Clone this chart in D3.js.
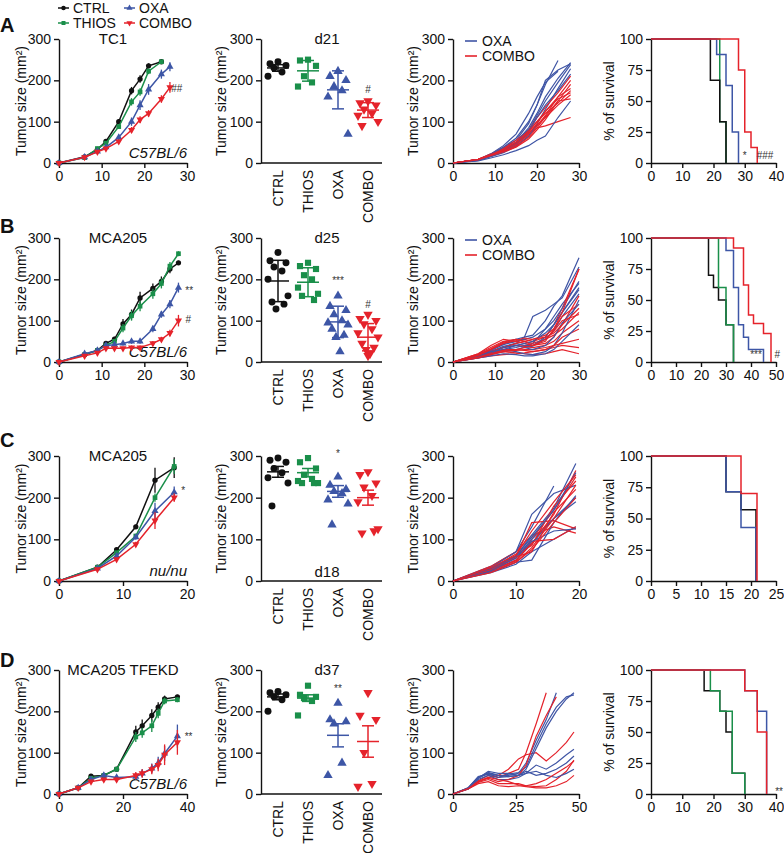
<!DOCTYPE html>
<html>
<head>
<meta charset="utf-8">
<script src="https://cdn.jsdelivr.net/npm/d3@7"></script>
<style>
  body { margin: 0; background: #fff; }
  svg text { font-family: 'Liberation Sans', Arial, sans-serif; fill: #111; }
</style>
</head>
<body>
<div id="chart"></div>
<script>
const groups = ['CTRL', 'THIOS', 'OXA', 'COMBO']
const groupColors = ['#111111', '#1a8f4a', '#3d56a6', '#e5232b']
const curveColors = ['#3f55a5', '#e4222b']

// ---- row A : TC1 ----
const aDays = [0, 6, 9, 11, 14, 17, 19, 21, 24, 26]
const aCtrl = [0, 15, 33, 52, 100, 175, 203, 235, 245, null]
const aThios = [0, 13, 35, 48, 88, 148, 172, 222, 245, null]
const aOxa = [0, 14, 28, 38, 62, 100, 140, 178, 215, 233]
const aCombo = [0, 14, 27, 35, 52, 80, 105, 120, 155, 183]
const aCtrlErr = [0, 2, 3, 4, 6, 9, 9, 6, 4, null]
const aThiosErr = [0, 2, 3, 4, 6, 9, 9, 7, 4, null]
const aOxaErr = [0, 2, 3, 4, 7, 10, 12, 13, 11, 11]
const aComboErr = [0, 2, 3, 3, 5, 7, 8, 8, 9, 13]

const aDotCtrl = [245, 240, 236, 230, 220, 210]
const aDotThios = [250, 248, 235, 210, 195, 185]
const aDotOxa = [222, 210, 200, 185, 175, 160, 70]
const aDotCombo = [150, 145, 140, 130, 120, 115, 100, 90]
const aDotMean = [230, 223, 177, 128]
const aDotErr = [8, 25, 46, 18]

const aCurveDays = [0, 6, 9, 12, 15, 18, 20, 22, 25, 28]
const aCurvesOxa = [
  [0, 8, 20, 35, 55, 95, 140, 190, 248, null],
  [0, 8, 22, 42, 70, 120, 160, 195, 222, null],
  [0, 7, 18, 32, 50, 85, 120, 160, 205, 243],
  [0, 7, 17, 30, 48, 80, 115, 150, 195, 238],
  [0, 6, 15, 25, 40, 65, 95, 130, 180, 228],
  [0, 5, 12, 20, 30, 42, 55, 65, 110, 150],
  [0, 6, 16, 28, 45, 75, 110, 140, 175, 215],
  [0, 8, 20, 38, 60, 100, 140, 200, 225, 240]
]
const aCurvesCombo = [
  [0, 9, 22, 38, 55, 80, 100, 120, 145, 175],
  [0, 9, 20, 32, 48, 72, 92, 110, 140, 165],
  [0, 8, 19, 30, 45, 68, 85, 90, 100, 110],
  [0, 8, 18, 28, 42, 65, 90, 115, 160, 200],
  [0, 9, 21, 35, 50, 78, 110, 135, 170, 210],
  [0, 8, 17, 26, 38, 58, 80, 105, 150, 190],
  [0, 8, 18, 28, 40, 62, 85, 112, 150, 155],
  [0, 9, 20, 33, 50, 75, 100, 125, 160, 180],
  [0, 8, 19, 30, 45, 70, 95, 125, 155, 170]
]

const aSurvCtrl = [[0, 100], [19, 66.7], [22, 33.3], [24, 0]]
const aSurvThios = [[0, 100], [22, 33.3], [24, 0]]
const aSurvOxa = [[0, 100], [21, 87.5], [24, 62.5], [26, 25], [28, 0]]
const aSurvCombo = [[0, 100], [28, 75], [30, 25], [32, 12.5], [34, 0]]

// ---- row B : MCA205 ----
const bDays = [0, 6, 9, 11, 13, 15, 17, 19, 22, 24, 26, 28]
const bCtrl = [0, 18, 28, 45, 55, 92, 115, 155, 178, 195, 225, 240]
const bThios = [0, 18, 28, 40, 50, 82, 112, 135, 165, 190, 232, 262]
const bOxa = [0, 20, 28, 40, 42, 45, 50, 50, 80, 115, 140, 180]
const bCombo = [0, 15, 22, 33, 33, 33, 35, 35, 45, 55, 70, 100]
const bCtrlErr = [0, 3, 4, 5, 6, 12, 12, 15, 12, 12, 10, 5]
const bThiosErr = [0, 3, 4, 5, 6, 10, 12, 12, 12, 12, 10, 6]
const bOxaErr = [0, 3, 4, 5, 5, 5, 6, 6, 8, 8, 10, 12]
const bComboErr = [0, 3, 3, 4, 4, 4, 5, 5, 6, 6, 8, 14]

const bDotCtrl = [265, 245, 240, 230, 220, 200, 160, 145, 140, 128]
const bDotThios = [240, 232, 225, 210, 200, 180, 165, 160, 150]
const bDotOxa = [160, 135, 125, 115, 100, 95, 90, 80, 65, 60, 25]
const bDotCombo = [115, 105, 100, 92, 80, 70, 60, 45, 35, 30, 20, 15]
const bDotMean = [196, 193, 97, 60]
const bDotErr = [50, 35, 38, 33]

const bCurveDays = [0, 6, 9, 12, 15, 17, 19, 22, 24, 26, 30]
const bCurvesOxa = [
  [0, 15, 25, 35, 45, 40, 45, 80, 110, 140, 190],
  [0, 18, 30, 45, 55, 60, 65, 100, 135, 160, 252],
  [0, 12, 20, 30, 35, 40, 40, 60, 90, 120, 180],
  [0, 10, 18, 25, 30, 35, 38, 55, 75, 110, 165],
  [0, 15, 28, 42, 50, 55, 60, 80, 100, 130, 195],
  [0, 12, 22, 30, 25, 20, 18, 25, 40, 70, 150],
  [0, 14, 25, 38, 45, 60, 110, 125, 140, 155, 230],
  [0, 10, 15, 20, 18, 15, 15, 20, 30, 50, 90],
  [0, 12, 20, 35, 40, 45, 50, 70, 90, 120, 175],
  [0, 15, 25, 30, 40, 35, 30, 40, 60, 95, 140]
]
const bCurvesCombo = [
  [0, 20, 35, 50, 55, 50, 45, 55, 65, 80, 120],
  [0, 18, 30, 45, 50, 55, 50, 60, 90, 130, 225],
  [0, 15, 25, 35, 40, 38, 35, 40, 50, 70, 100],
  [0, 12, 20, 25, 22, 20, 18, 20, 25, 30, 20],
  [0, 10, 15, 18, 20, 22, 25, 30, 35, 40, 35],
  [0, 15, 22, 30, 30, 28, 25, 30, 40, 60, 80],
  [0, 20, 40, 55, 50, 45, 40, 45, 60, 90, 160],
  [0, 14, 25, 35, 45, 50, 55, 65, 80, 110, 140],
  [0, 10, 18, 25, 28, 30, 30, 35, 40, 45, 55],
  [0, 16, 30, 45, 52, 58, 55, 60, 70, 90, 130],
  [0, 12, 20, 28, 30, 35, 40, 55, 75, 100, 115],
  [0, 18, 32, 48, 55, 50, 40, 50, 80, 120, 225]
]

const bSurvCtrl = [[0, 100], [23, 70], [25, 60], [27, 50], [30, 30], [33, 0]]
const bSurvThios = [[0, 100], [27, 60], [30, 30], [33, 0]]
const bSurvOxa = [[0, 100], [30, 90], [33, 60], [35, 30], [37, 20], [39, 10], [45, 0]]
const bSurvCombo = [[0, 100], [33, 92], [37, 62], [39, 38], [41, 31], [45, 23], [48, 0]]

// ---- row C : MCA205 nu/nu ----
const cDays = [0, 6, 9, 12, 15, 18]
const cCtrl = [0, 33, 75, 130, 242, 272]
const cThios = [0, 33, 68, 108, 200, 275]
const cOxa = [0, 30, 60, 105, 168, 213]
const cCombo = [0, 28, 52, 88, 145, 200]
const cCtrlErr = [0, 2, 4, 5, 30, 25]
const cThiosErr = [0, 2, 4, 5, 10, 18]
const cOxaErr = [0, 2, 4, 6, 20, 14]
const cComboErr = [0, 2, 4, 6, 20, 10]

const cDotCtrl = [295, 290, 285, 270, 260, 248, 235, 180]
const cDotThios = [295, 285, 270, 255, 245, 240, 235, 235, 235]
const cDotOxa = [250, 230, 220, 215, 210, 195, 185, 135]
const cDotCombo = [262, 255, 235, 225, 205, 190, 125, 115, 120]
const cDotMean = [262, 260, 215, 200]
const cDotErr = [13, 10, 14, 18]

const cCurveDays = [0, 6, 10, 12.5, 16, 19.5]
const cCurvesOxa = [
  [0, 35, 70, 130, 228, null],
  [0, 30, 60, 110, 175, 282],
  [0, 25, 50, 90, 150, 200],
  [0, 28, 55, 100, 150, 190],
  [0, 32, 70, 160, 210, 230],
  [0, 20, 40, 70, 100, 130],
  [0, 22, 45, 50, 140, 205],
  [0, 25, 55, 95, 120, 125],
  [0, 30, 60, 105, 170, 260]
]
const cCurvesCombo = [
  [0, 35, 70, 110, 130, 115],
  [0, 30, 60, 140, 145, 125],
  [0, 28, 55, 100, 170, 250],
  [0, 25, 50, 90, 160, 265],
  [0, 30, 65, 85, 180, 240],
  [0, 22, 45, 80, 150, 230],
  [0, 25, 48, 95, 100, 130],
  [0, 28, 58, 70, 165, 220],
  [0, 32, 62, 120, 190, 255],
  [0, 20, 45, 75, 140, 200]
]

const cSurvCtrl = [[0, 100], [15, 71.4], [18, 57.1], [21, 0]]
const cSurvOxa = [[0, 100], [15, 71.4], [18, 42.9], [21, 0]]
const cSurvCombo = [[0, 100], [18, 70], [21.2, 0]]

// ---- row D : MCA205 TFEKD ----
const dDays = [0, 6, 10, 14, 18, 24, 26, 29, 31, 33, 37]
const dCtrl = [0, 15, 43, 45, 60, 150, 165, 190, 210, 230, 235]
const dThios = [0, 15, 38, 45, 60, 138, 148, 165, 195, 225, 228]
const dOxa = [0, 15, 35, 45, 40, 42, 50, 62, 75, 98, 140]
const dCombo = [0, 15, 30, 35, 35, 45, 50, 60, 70, 95, 125]
const dCtrlErr = [0, 2, 4, 5, 5, 15, 15, 15, 12, 8, 5]
const dThiosErr = [0, 2, 4, 5, 5, 12, 12, 15, 12, 8, 6]
const dOxaErr = [0, 2, 4, 5, 6, 8, 10, 12, 15, 18, 28]
const dComboErr = [0, 2, 4, 4, 5, 8, 10, 12, 15, 25, 30]

const dDotCtrl = [248, 245, 240, 235, 228, 200]
const dDotThios = [262, 240, 235, 232, 225, 190]
const dDotOxa = [220, 180, 175, 170, 75, 45]
const dDotCombo = [245, 190, 180, 100, 25, 18]
const dDotMean = [235, 232, 142, 127]
const dDotErr = [7, 8, 28, 38]

const dCurveDays = [0, 6, 10, 14, 18, 22, 26, 29, 33, 37, 41, 45, 48]
const dCurvesOxa = [
  [0, 15, 40, 52, 45, 45, 50, 75, 130, 180, 245, null, null],
  [0, 14, 38, 50, 40, 42, 45, 60, 110, 160, 200, 230, 245],
  [0, 15, 42, 48, 40, 48, 52, 65, 120, 170, 210, 235, 240],
  [0, 12, 35, 45, 35, 35, 40, 50, 70, 60, 75, 95, 108],
  [0, 14, 40, 50, 45, 42, 45, 55, 45, 50, 60, 75, 92],
  [0, 13, 38, 55, 50, 50, 45, 50, 55, 45, 40, 50, 60]
]
const dCurvesCombo = [
  [0, 12, 30, 40, 45, 60, 85, 95, 100, 80, 100, 125, 150],
  [0, 14, 32, 45, 40, 50, 60, 100, 170, 245, null, null, null],
  [0, 12, 25, 30, 20, 18, 20, 18, 15, 15, 20, 30, 45],
  [0, 14, 30, 38, 30, 35, 45, 70, 140, 190, 235, null, null],
  [0, 12, 28, 35, 25, 25, 25, 20, 18, 20, 35, 55, 82],
  [0, 13, 30, 40, 35, 30, 22, 20, 25, 35, 50, 65, 80]
]

const dSurvCtrl = [[0, 100], [17, 83.3], [22, 66.7], [24, 50], [26, 16.7], [30, 0]]
const dSurvThios = [[0, 100], [19, 83.3], [22, 66.7], [26, 16.7], [30, 0]]
const dSurvOxa = [[0, 100], [30, 83.3], [34, 66.7], [37, 0]]
const dSurvCombo = [[0, 100], [30, 83.3], [34, 50], [37, 0]]

// ---- layout ----
const width = 784
const height = 853
const cols = [[59, 187], [261, 382], [453, 579], [651, 776]]
const rows = [[39, 163], [238, 362], [456, 581], [670, 794]]
const jitter = [0, -8, 8, -4, 4, -10, 10, -6, 6, -2, 2, 0]
const symbolTypes = [d3.symbolCircle, d3.symbolSquare, d3.symbolTriangle, d3.symbolTriangle]

const svg = d3
  .select('#chart')
  .append('svg')
  .attr('width', width)
  .attr('height', height)

function styleAxis(g) {
  g.selectAll('path, line').attr('stroke', '#111').attr('stroke-width', 1.4)
  g.selectAll('text')
    .attr('font-size', 14)
    .attr('font-family', "'Liberation Sans', Arial, sans-serif")
    .attr('fill', '#111')
}

function drawYAxis(x, scale, ticks) {
  svg
    .append('g')
    .attr('transform', `translate(${x},0)`)
    .call(d3.axisLeft(scale).tickValues(ticks).tickSize(5).tickPadding(3).tickSizeOuter(0))
    .call(styleAxis)
}

function drawXAxis(y, scale, ticks) {
  svg
    .append('g')
    .attr('transform', `translate(0,${y})`)
    .call(d3.axisBottom(scale).tickValues(ticks).tickSize(5).tickPadding(3).tickSizeOuter(0))
    .call(styleAxis)
}

function yTitle(text, x, top, bottom) {
  svg
    .append('text')
    .attr('transform', `translate(${x},${(top + bottom) / 2}) rotate(-90)`)
    .attr('text-anchor', 'middle')
    .attr('font-size', 14)
    .text(text)
}

function note(text, x, y) {
  svg
    .append('text')
    .attr('x', x)
    .attr('y', y)
    .attr('dy', '0.35em')
    .attr('text-anchor', 'middle')
    .attr('font-size', 10)
    .style('fill', '#333')
    .text(text)
}

function symbolPath(i, size) {
  return d3.symbol().type(symbolTypes[i]).size(size)()
}

function symbolTransform(i, x, y) {
  return `translate(${x},${y})` + (i === 3 ? ' rotate(180)' : '')
}

function growthPanel(r, days, series, errs, xMax, xTicks, title, titleX, strain, notes) {
  const [top, bottom] = rows[r]
  const x = d3.scaleLinear().domain([0, xMax]).range(cols[0])
  const y = d3.scaleLinear().domain([0, 300]).range([bottom, top])
  drawYAxis(cols[0][0], y, [0, 100, 200, 300])
  drawXAxis(bottom, x, xTicks)
  yTitle('Tumor size (mm²)', 26, top, bottom)

  svg.append('text').attr('x', titleX).attr('y', top + 5).attr('text-anchor', 'middle')
    .attr('font-size', 15).text(title)
  svg.append('text').attr('x', cols[0][1]).attr('y', bottom - 5).attr('text-anchor', 'end')
    .attr('font-size', 15).attr('font-style', 'italic').text(strain)

  const line = d3.line().x(d => x(d[0])).y(d => y(d[1]))
  series.forEach((vals, i) => {
    const pts = days
      .map((d, j) => [d, vals[j], errs[i][j]])
      .filter(p => p[1] != null)
    const g = svg.append('g')
    g.append('path')
      .datum(pts)
      .attr('d', line)
      .attr('fill', 'none')
      .attr('stroke', groupColors[i])
      .attr('stroke-width', 1.5)
    g.selectAll('.err')
      .data(pts.filter(p => p[2] > 0))
      .enter()
      .append('line')
      .attr('x1', p => x(p[0]))
      .attr('x2', p => x(p[0]))
      .attr('y1', p => y(p[1] - p[2]))
      .attr('y2', p => y(p[1] + p[2]))
      .attr('stroke', groupColors[i])
      .attr('stroke-width', 1.3)
    g.selectAll('.pt')
      .data(pts)
      .enter()
      .append('path')
      .attr('d', symbolPath(i, 22))
      .attr('transform', p => symbolTransform(i, x(p[0]), y(p[1])))
      .attr('fill', groupColors[i])
  })
  notes.forEach(n => note(n[0], x(n[1]), y(n[2])))
}

function dotPanel(r, points, means, errs, title, titleAtBottom, notes) {
  const [top, bottom] = rows[r]
  const x = d3.scalePoint().domain(groups).range([278, 368])
  const y = d3.scaleLinear().domain([0, 300]).range([bottom, top])
  drawYAxis(cols[1][0], y, [0, 100, 200, 300])
  svg.append('line')
    .attr('x1', cols[1][0]).attr('x2', cols[1][1])
    .attr('y1', bottom).attr('y2', bottom)
    .attr('stroke', '#111').attr('stroke-width', 1.4)
  yTitle('Tumor size (mm²)', 226, top, bottom)

  groups.forEach(name => {
    svg.append('text')
      .attr('transform', `translate(${x(name)},${bottom + 7}) rotate(-90)`)
      .attr('text-anchor', 'end')
      .attr('dy', '0.35em')
      .attr('font-size', 14)
      .text(name)
  })

  svg.append('text')
    .attr('x', 327)
    .attr('y', titleAtBottom ? bottom - 4 : top + 5)
    .attr('text-anchor', 'middle')
    .attr('font-size', 15)
    .text(title)

  points.forEach((vals, i) => {
    const cx = x(groups[i])
    const g = svg.append('g')
    g.selectAll('.dot')
      .data(vals)
      .enter()
      .append('path')
      .attr('d', symbolPath(i, 38))
      .attr('transform', (v, j) => symbolTransform(i, cx + jitter[j % jitter.length], y(v)))
      .attr('fill', groupColors[i])
    const m = means[i]
    const e = errs[i]
    const segs = [
      [cx - 11, cx + 11, y(m), y(m)],
      [cx, cx, y(m - e), y(m + e)],
      [cx - 6, cx + 6, y(m - e), y(m - e)],
      [cx - 6, cx + 6, y(m + e), y(m + e)]
    ]
    g.selectAll('.bar')
      .data(segs)
      .enter()
      .append('line')
      .attr('x1', s => s[0])
      .attr('x2', s => s[1])
      .attr('y1', s => s[2])
      .attr('y2', s => s[3])
      .attr('stroke', groupColors[i])
      .attr('stroke-width', 1.5)
  })
  notes.forEach(n => note(n[0], x(n[1]), y(n[2])))
}

function curvesPanel(r, days, oxaCurves, comboCurves, xMax, xTicks, showLegend) {
  const [top, bottom] = rows[r]
  const x = d3.scaleLinear().domain([0, xMax]).range(cols[2])
  const y = d3.scaleLinear().domain([0, 300]).range([bottom, top])
  drawYAxis(cols[2][0], y, [0, 100, 200, 300])
  drawXAxis(bottom, x, xTicks)
  yTitle('Tumor size (mm²)', 418, top, bottom)

  const line = d3
    .line()
    .defined(d => d[1] != null)
    .x(d => x(d[0]))
    .y(d => y(d[1]))

  const all = []
  const n = Math.max(oxaCurves.length, comboCurves.length)
  for (let k = 0; k < n; k++) {
    if (oxaCurves[k]) all.push({ vals: oxaCurves[k], color: curveColors[0] })
    if (comboCurves[k]) all.push({ vals: comboCurves[k], color: curveColors[1] })
  }
  svg
    .selectAll(null)
    .data(all)
    .enter()
    .append('path')
    .attr('d', c => line(days.map((d, j) => [d, c.vals[j]])))
    .attr('fill', 'none')
    .attr('stroke', c => c.color)
    .attr('stroke-width', 1.2)

  if (showLegend) {
    ;['OXA', 'COMBO'].forEach((name, i) => {
      const ly = top + 2 + i * 15
      svg.append('line')
        .attr('x1', 465).attr('x2', 477).attr('y1', ly).attr('y2', ly)
        .attr('stroke', curveColors[i]).attr('stroke-width', 1.6)
      svg.append('text')
        .attr('x', 482).attr('y', ly).attr('dy', '0.35em')
        .attr('font-size', 14).text(name)
    })
  }
}

function survivalPanel(r, curves, xMax, xTicks, notes) {
  const [top, bottom] = rows[r]
  const x = d3.scaleLinear().domain([0, xMax]).range(cols[3])
  const y = d3.scaleLinear().domain([0, 100]).range([bottom, top])
  drawYAxis(cols[3][0], y, [0, 25, 50, 75, 100])
  drawXAxis(bottom, x, xTicks)
  yTitle('% of survival', 614, top, bottom)

  const line = d3
    .line()
    .curve(d3.curveStepAfter)
    .x(d => x(d[0]))
    .y(d => y(d[1]))
  curves.forEach(c => {
    svg.append('path')
      .datum(c.steps)
      .attr('d', line)
      .attr('fill', 'none')
      .attr('stroke', groupColors[c.group])
      .attr('stroke-width', 1.5)
  })
  notes.forEach(n => note(n[0], x(n[1]), y(n[2])))
}

// ---- top legend ----
groups.forEach((name, i) => {
  const lx = 58 + Math.floor(i / 2) * 66
  const ly = 8 + (i % 2) * 15
  svg.append('line')
    .attr('x1', lx).attr('x2', lx + 11).attr('y1', ly).attr('y2', ly)
    .attr('stroke', groupColors[i]).attr('stroke-width', 1.5)
  svg.append('path')
    .attr('d', symbolPath(i, 16))
    .attr('transform', symbolTransform(i, lx + 5.5, ly))
    .attr('fill', groupColors[i])
  svg.append('text')
    .attr('x', lx + 15).attr('y', ly).attr('dy', '0.35em')
    .attr('font-size', 14).text(name)
})

// ---- row letters ----
const letters = ['A', 'B', 'C', 'D']
const letterY = [32, 233, 447, 667]
letters.forEach((l, i) => {
  svg.append('text').attr('x', 0).attr('y', letterY[i])
    .attr('font-size', 20).attr('font-weight', 'bold').text(l)
})

// ---- row A ----
growthPanel(0, aDays, [aCtrl, aThios, aOxa, aCombo], [aCtrlErr, aThiosErr, aOxaErr, aComboErr],
  30, [0, 10, 20, 30], 'TC1', 113, 'C57BL/6', [['##', 27.6, 180]])
dotPanel(0, [aDotCtrl, aDotThios, aDotOxa, aDotCombo], aDotMean, aDotErr, 'd21', false,
  [['#', 'COMBO', 177]])
curvesPanel(0, aCurveDays, aCurvesOxa, aCurvesCombo, 30, [0, 10, 20, 30], true)
survivalPanel(0, [
  { steps: aSurvThios, group: 1 },
  { steps: aSurvCtrl, group: 0 },
  { steps: aSurvOxa, group: 2 },
  { steps: aSurvCombo, group: 3 }
], 40, [0, 10, 20, 30, 40], [['*', 30, 6], ['###', 36.5, 6]])

// ---- row B ----
growthPanel(1, bDays, [bCtrl, bThios, bOxa, bCombo], [bCtrlErr, bThiosErr, bOxaErr, bComboErr],
  30, [0, 10, 20, 30], 'MCA205', 118, 'C57BL/6', [['**', 30.5, 172], ['#', 30.3, 102]])
dotPanel(1, [bDotCtrl, bDotThios, bDotOxa, bDotCombo], bDotMean, bDotErr, 'd25', false,
  [['***', 'OXA', 196], ['#', 'COMBO', 140]])
curvesPanel(1, bCurveDays, bCurvesOxa, bCurvesCombo, 30, [0, 10, 20, 30], true)
survivalPanel(1, [
  { steps: bSurvCtrl, group: 0 },
  { steps: bSurvThios, group: 1 },
  { steps: bSurvOxa, group: 2 },
  { steps: bSurvCombo, group: 3 }
], 50, [0, 10, 20, 30, 40, 50], [['***', 42, 6], ['#', 50.5, 6]])

// ---- row C ----
growthPanel(2, cDays, [cCtrl, cThios, cOxa, cCombo], [cCtrlErr, cThiosErr, cOxaErr, cComboErr],
  20, [0, 10, 20], 'MCA205', 118, 'nu/nu', [['*', 19.4, 218]])
dotPanel(2, [cDotCtrl, cDotThios, cDotOxa, cDotCombo], cDotMean, cDotErr, 'd18', true,
  [['*', 'OXA', 305]])
curvesPanel(2, cCurveDays, cCurvesOxa, cCurvesCombo, 20, [0, 10, 20], false)
survivalPanel(2, [
  { steps: cSurvCtrl, group: 0 },
  { steps: cSurvOxa, group: 2 },
  { steps: cSurvCombo, group: 3 }
], 25, [0, 5, 10, 15, 20, 25], [])

// ---- row D ----
growthPanel(3, dDays, [dCtrl, dThios, dOxa, dCombo], [dCtrlErr, dThiosErr, dOxaErr, dComboErr],
  40, [0, 20, 40], 'MCA205 TFEKD', 123, 'C57BL/6', [['**', 40.5, 138]])
dotPanel(3, [dDotCtrl, dDotThios, dDotOxa, dDotCombo], dDotMean, dDotErr, 'd37', false,
  [['**', 'OXA', 256]])
curvesPanel(3, dCurveDays, dCurvesOxa, dCurvesCombo, 50, [0, 25, 50], false)
survivalPanel(3, [
  { steps: dSurvCtrl, group: 0 },
  { steps: dSurvThios, group: 1 },
  { steps: dSurvOxa, group: 2 },
  { steps: dSurvCombo, group: 3 }
], 40, [0, 10, 20, 30, 40], [['**', 41, 2]])
</script>
</body>
</html>
